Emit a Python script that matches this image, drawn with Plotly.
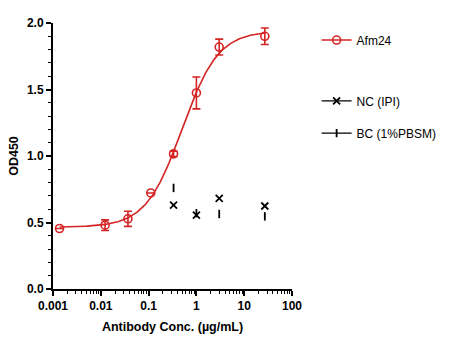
import numpy as np
import plotly.graph_objects as go

# Antibody concentrations (µg/mL) and OD450 readings
conc_afm24 = [0.00137, 0.0123, 0.037, 0.111, 0.333, 1.0, 3.0, 27.0]
od_afm24 = [0.455, 0.480, 0.528, 0.722, 1.016, 1.474, 1.819, 1.900]
err_afm24 = [0.0, 0.040, 0.057, 0.0, 0.020, 0.120, 0.060, 0.062]

conc_ctrl = [0.333, 1.0, 3.0, 27.0]
od_nc = [0.631, 0.556, 0.682, 0.624]
od_bc = [0.760, 0.570, 0.564, 0.546]

x_ticks = [0.001, 0.01, 0.1, 1, 10, 100]
x_tick_text = ["0.001", "0.01", "0.1", "1", "10", "100"]

RED = "#D42424"
FONT = "Liberation Sans, Arial, sans-serif"


def four_pl(x, bottom, top, log_ec50, hill):
    return bottom + (top - bottom) / (1.0 + 10 ** ((log_ec50 - np.log10(x)) * hill))


# Least-squares 4PL fit by grid search
xa = np.array(conc_afm24)
ya = np.array(od_afm24)
B = np.linspace(0.40, 0.52, 25)[:, None, None, None]
T = np.linspace(1.80, 2.10, 31)[None, :, None, None]
L = np.linspace(-0.7, 0.1, 41)[None, None, :, None]
H = np.linspace(0.7, 2.0, 27)[None, None, None, :]
sse = np.zeros((25, 31, 41, 27))
for xi, yi in zip(xa, ya):
    sse += (four_pl(xi, B, T, L, H) - yi) ** 2
ib, it, il, ih = np.unravel_index(np.argmin(sse), sse.shape)
params = (B.ravel()[ib], T.ravel()[it], L.ravel()[il], H.ravel()[ih])

x_fit = np.logspace(np.log10(min(conc_afm24)), np.log10(max(conc_afm24)), 300)
y_fit = four_pl(x_fit, *params)


def gapped(vals):
    # interleave gaps so points are not joined, while the legend still shows a line
    out = []
    for v in vals:
        out += [v, None]
    return out[:-1]


fig = go.Figure()

fig.add_trace(go.Scatter(
    x=x_fit, y=y_fit, mode="lines",
    line=dict(color=RED, width=1.6),
    showlegend=False, hoverinfo="skip",
))

fig.add_trace(go.Scatter(
    x=gapped(conc_afm24), y=gapped(od_afm24),
    mode="lines+markers", connectgaps=False,
    name="Afm24", legend="legend",
    line=dict(color=RED, width=1.6),
    marker=dict(symbol="circle-open", size=8, color=RED, line=dict(width=1.6, color=RED)),
    error_y=dict(type="data", array=gapped(err_afm24), color=RED, thickness=1.6, width=4),
    cliponaxis=False,
))

fig.add_trace(go.Scatter(
    x=gapped(conc_ctrl), y=gapped(od_nc),
    mode="lines+markers", connectgaps=False,
    name="NC (IPI)", legend="legend2",
    line=dict(color="black", width=1.3),
    marker=dict(symbol="x-thin", size=7, color="black", line=dict(width=1.8, color="black")),
    cliponaxis=False,
))

fig.add_trace(go.Scatter(
    x=gapped(conc_ctrl), y=gapped(od_bc),
    mode="lines+markers", connectgaps=False,
    name="BC (1%PBSM)", legend="legend3",
    line=dict(color="black", width=1.3),
    marker=dict(symbol="line-ns", size=6, color="black", line=dict(width=1.8, color="black")),
    cliponaxis=False,
))

legend_style = dict(
    x=1.103, xanchor="left", yanchor="middle",
    font=dict(family=FONT, size=12, color="black"),
    bgcolor="rgba(0,0,0,0)", borderwidth=0,
)

fig.update_layout(
    width=462, height=340,
    margin=dict(l=53, r=170, t=23, b=51),
    paper_bgcolor="white", plot_bgcolor="white",
    font=dict(family=FONT, size=12, color="black"),
    legend=dict(y=0.936, **legend_style),
    legend2=dict(y=0.707, **legend_style),
    legend3=dict(y=0.586, **legend_style),
    xaxis=dict(
        type="log", range=[-3, 2], automargin=False,
        tickvals=x_ticks, ticktext=x_tick_text,
        showline=True, linecolor="black", linewidth=2,
        ticks="outside", ticklen=5, tickwidth=1.5, tickcolor="black",
        minor=dict(ticks="outside", ticklen=3, tickwidth=1, tickcolor="black", dtick="D1", showgrid=False),
        showgrid=False, zeroline=False,
        tickfont=dict(family=FONT, size=12, weight="bold"),
        title=dict(text="Antibody Conc. (µg/mL)", font=dict(family=FONT, size=12.5, weight="bold"), standoff=10),
    ),
    yaxis=dict(
        range=[0, 2], automargin=False, tickvals=[0, 0.5, 1.0, 1.5, 2.0], tickformat=".1f",
        showline=True, linecolor="black", linewidth=2,
        ticks="outside", ticklen=5, tickwidth=1.5, tickcolor="black",
        minor=dict(ticks="outside", ticklen=3, tickwidth=1, tickcolor="black", dtick=0.1, showgrid=False),
        showgrid=False, zeroline=False,
        tickfont=dict(family=FONT, size=12, weight="bold"),
        title=dict(text="OD450", font=dict(family=FONT, size=12.5, weight="bold"), standoff=6),
    ),
)

fig.write_html("out.html")
